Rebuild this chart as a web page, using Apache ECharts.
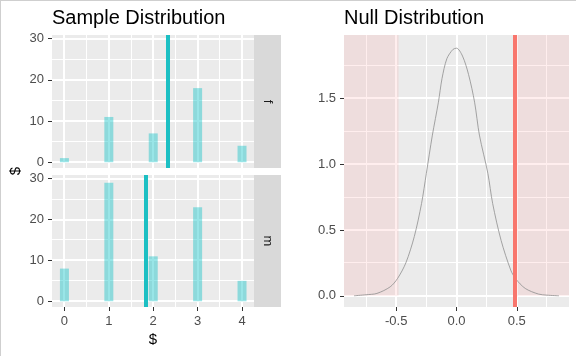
<!DOCTYPE html>
<html>
<head>
<meta charset="utf-8">
<script src="https://cdn.jsdelivr.net/npm/echarts@6/dist/echarts.min.js"></script>
<style>
html,body{margin:0;padding:0;background:#fff;}
#c{width:576px;height:356px;}
</style>
</head>
<body>
<div id="c"></div>
<script>
// ---- data ----
const categories = [0, 1, 2, 3, 4];
const countsF = [1, 11, 7, 18, 4];
const countsM = [8, 29, 11, 23, 5];
const facetLabels = ['f', 'm'];
const sampleMeans = [2.32, 1.84];
const nullX = [-0.85, -0.75, -0.66, -0.55, -0.49, -0.42, -0.35, -0.29, -0.25, -0.20, -0.15, -0.12, -0.08, -0.03, 0.0, 0.05, 0.10, 0.15, 0.19, 0.26, 0.30, 0.37, 0.45, 0.49, 0.57, 0.68, 0.75, 0.85];
const nullY = [0.0, 0.008, 0.018, 0.068, 0.13, 0.25, 0.45, 0.70, 0.93, 1.22, 1.47, 1.65, 1.80, 1.87, 1.88, 1.82, 1.68, 1.47, 1.22, 0.93, 0.70, 0.42, 0.195, 0.13, 0.056, 0.013, 0.005, 0.0];
const obsStat = 0.48;
const leftXTicks = [0, 1, 2, 3, 4];
const leftXMinor = [0.5, 1.5, 2.5, 3.5];
const leftYTicks = [0, 10, 20, 30];
const leftYMinor = [5, 15, 25];
const rightXTicks = [-0.5, 0, 0.5];
const rightXMinor = [-0.75, -0.25, 0.25, 0.75];
const rightYTicks = [0, 0.5, 1.0, 1.5];
const rightYMinor = [0.25, 0.75, 1.25, 1.75];
const titles = ['Sample Distribution', 'Null Distribution'];
const axisTitle = '$';

// ---- layout ----
const LX = [-0.28, 4.27], LY = [-1.4, 30.9];
const RX = [-0.933, 0.933], RY = [-0.085, 1.98];
const grids = [
  {left: 52, top: 35, width: 202, height: 133},
  {left: 52, top: 175, width: 202, height: 132},
  {left: 344, top: 35, width: 225, height: 272}
];
const tickColor = '#333333', labelColor = '#4d4d4d';
const labelFont = {color: labelColor, fontSize: 13, fontFamily: 'Liberation Sans, Arial, sans-serif'};

function xAxisCfg(gi, ext, ticks, showLabels, fmt) {
  return {
    type: 'value', gridIndex: gi, min: ext[0], max: ext[1],
    splitLine: {show: false}, axisLine: {show: false, onZero: false},
    axisTick: {show: showLabels, length: 4, customValues: ticks, lineStyle: {color: tickColor, width: 1}},
    axisLabel: Object.assign({show: showLabels, customValues: ticks, margin: 8, formatter: fmt}, labelFont)
  };
}
function yAxisCfg(gi, ext, ticks, fmt) {
  return {
    type: 'value', gridIndex: gi, min: ext[0], max: ext[1],
    splitLine: {show: false}, axisLine: {show: false, onZero: false},
    axisTick: {show: true, length: 4, customValues: ticks, lineStyle: {color: tickColor, width: 1}},
    axisLabel: Object.assign({show: true, customValues: ticks, margin: 8, formatter: fmt}, labelFont)
  };
}
const fmtInt = v => String(Math.round(v));
const fmt1 = v => (Math.abs(v) < 1e-9 ? 0 : v).toFixed(1);

const series = [];
// panel grid lines drawn by a custom series through the axis scales (pixel-snapped)
function snap(p, w) { return w >= 2 ? Math.round(p) : Math.floor(p) + 0.5; }
function gridLineSeries(ai, xsMinor, ysMinor, xsMajor, ysMajor) {
  const items = []
    .concat(xsMinor.map(v => [v, 0, 1]))
    .concat(ysMinor.map(v => [v, 1, 1]))
    .concat(xsMajor.map(v => [v, 0, 2]))
    .concat(ysMajor.map(v => [v, 1, 2]));
  series.push({
    type: 'custom', xAxisIndex: ai, yAxisIndex: ai, z: 2, silent: true, animation: false,
    data: items,
    renderItem: function (params, api) {
      const v = api.value(0), orient = api.value(1), w = api.value(2);
      const cs = params.coordSys;
      if (orient === 0) {
        const px = snap(api.coord([v, 0])[0], w);
        return {type: 'line', shape: {x1: px, y1: cs.y, x2: px, y2: cs.y + cs.height},
          style: {stroke: '#ffffff', lineWidth: w, opacity: 1}};
      }
      const py = snap(api.coord([0, v])[1], w);
      return {type: 'line', shape: {x1: cs.x, y1: py, x2: cs.x + cs.width, y2: py},
        style: {stroke: '#ffffff', lineWidth: w, opacity: 1}};
    }
  });
}
[0, 1].forEach(i => gridLineSeries(i, leftXMinor, leftYMinor, leftXTicks, leftYTicks));
gridLineSeries(2, rightXMinor, rightYMinor, rightXTicks, rightYTicks);

[countsF, countsM].forEach((counts, i) => {
  series.push({
    type: 'bar', xAxisIndex: i, yAxisIndex: i, barWidth: 9, z: 3, animation: false, silent: true,
    itemStyle: {color: 'rgba(0,191,196,0.4)'},
    data: categories.map((c, k) => [c, counts[k]]),
    markLine: {silent: true, symbol: 'none', z: 6, animation: false, label: {show: false},
      lineStyle: {color: '#1cbfc3', width: 4, type: 'solid'},
      data: [{xAxis: sampleMeans[i]}]}
  });
});

series.push({
  type: 'line', xAxisIndex: 2, yAxisIndex: 2, z: 5, animation: false, silent: true,
  symbol: 'none', smooth: 0.3,
  lineStyle: {color: '#8e8e8e', width: 0.8},
  data: nullX.map((x, k) => [x, nullY[k]]),
  markArea: {silent: true, z: 3, animation: false, itemStyle: {color: 'rgba(255,140,140,0.15)'},
    data: [
      [{coord: [RX[0], 0]}, {coord: [-obsStat, RY[1]]}],
      [{coord: [obsStat, 0]}, {coord: [RX[1], RY[1]]}]
    ]},
  markLine: {silent: true, symbol: 'none', z: 6, animation: false, label: {show: false},
    lineStyle: {color: '#f8766d', width: 4, type: 'solid'},
    data: [{xAxis: obsStat}]}
});

const graphic = [
  {type: 'line', shape: {x1: 0.5, y1: 0, x2: 0.5, y2: 356}, style: {stroke: '#cfcfcf', lineWidth: 1}, silent: true},
  {type: 'line', shape: {x1: 0, y1: 0.5, x2: 576, y2: 0.5}, style: {stroke: '#cfcfcf', lineWidth: 1}, silent: true},
  {type: 'text', x: 52, y: 18, style: {text: titles[0], textAlign: 'left', textVerticalAlign: 'middle', fill: '#000', font: '20px "Liberation Sans", Arial, sans-serif'}},
  {type: 'text', x: 344, y: 18, style: {text: titles[1], textAlign: 'left', textVerticalAlign: 'middle', fill: '#000', font: '20px "Liberation Sans", Arial, sans-serif'}},
  {type: 'text', x: 153, y: 340, style: {text: axisTitle, textAlign: 'center', textVerticalAlign: 'middle', fill: '#000', font: '15px "Liberation Sans", Arial, sans-serif'}},
  {type: 'text', x: 16, y: 171, rotation: Math.PI / 2, style: {text: axisTitle, textAlign: 'center', textVerticalAlign: 'middle', fill: '#000', font: '15px "Liberation Sans", Arial, sans-serif'}}
];
[0, 1].forEach(i => {
  const g = grids[i];
  graphic.push({type: 'rect', shape: {x: 254, y: g.top, width: 27, height: g.height}, style: {fill: '#d9d9d9'}, silent: true});
  graphic.push({type: 'text', x: 267.5, y: g.top + g.height / 2, rotation: -Math.PI / 2,
    style: {text: facetLabels[i], textAlign: 'center', textVerticalAlign: 'middle', fill: '#1a1a1a', font: '13px "Liberation Sans", Arial, sans-serif'}});
});

const option = {
  animation: false,
  backgroundColor: '#ffffff',
  grid: grids.map(g => Object.assign({show: true, z: 0, backgroundColor: '#ebebeb', borderWidth: 0, containLabel: false}, g)),
  xAxis: [
    xAxisCfg(0, LX, leftXTicks, false, fmtInt),
    xAxisCfg(1, LX, leftXTicks, true, fmtInt),
    xAxisCfg(2, RX, rightXTicks, true, fmt1)
  ],
  yAxis: [
    yAxisCfg(0, LY, leftYTicks, fmtInt),
    yAxisCfg(1, LY, leftYTicks, fmtInt),
    yAxisCfg(2, RY, rightYTicks, fmt1)
  ],
  series: series,
  graphic: graphic
};
const chart = echarts.init(document.getElementById('c'), null, {renderer: 'canvas'});
chart.setOption(option);
</script>
</body>
</html>
